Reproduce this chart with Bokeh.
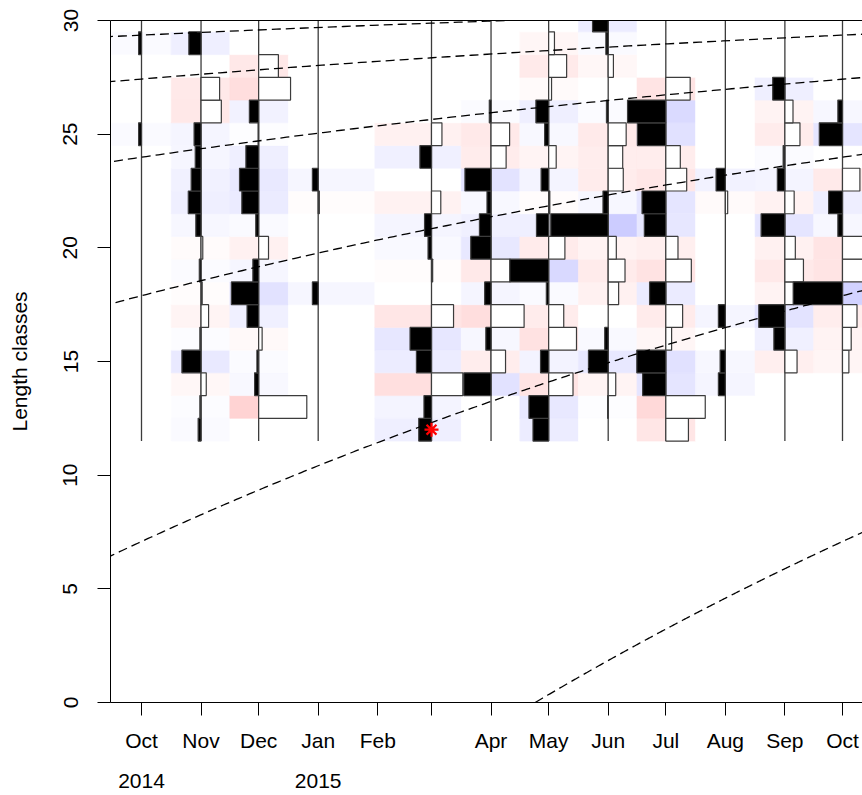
import math
import datetime as dt
from bokeh.plotting import figure
from bokeh.models import ColumnDataSource, LinearAxis, FixedTicker, Range1d
from bokeh.transform import linear_cmap
from bokeh.embed import file_html
from bokeh.resources import INLINE

# ---------------- data ----------------
sample_dates = ["2014-10-01", "2014-11-01", "2014-12-01", "2015-01-01", "2015-03-01",
                "2015-04-01", "2015-05-01", "2015-06-01", "2015-07-01", "2015-08-01",
                "2015-09-01", "2015-10-01"]
length_mids = list(range(12, 31))  # length class mid points (bin width 1)

# restructured scores per sample, rows = length classes 12..30
oct14 = [0, 0, 0, 0, 0, 0, 0, 0, 0, 0, 0, 0, 0, 0.05, 0, 0, 0, 0.05, 0]
nov14 = [0.05, 0.02, -0.09, 0.33, 0.02, -0.13, -0.02, 0.03, -0.03, 0.09, 0.22, 0.17, 0.10, 0.12, -0.35, -0.32, 0, 0.21, 0]
dec14 = [0, -0.83, 0.07, 0.03, -0.06, 0.20, 0.47, 0.10, -0.17, 0.05, 0.29, 0.33, 0.22, 0.01, 0.16, -0.55, -0.34, 0, 0]
jan15 = [0, 0, 0, 0, 0, 0, 0.10, 0, 0, 0, -0.02, 0.10, 0, 0, 0, 0, 0, 0, 0]
mar15 = [0.22, 0.13, -0.54, 0.26, 0.37, -0.38, 0, -0.02, 0.06, 0.12, -0.16, 0, 0.20, -0.18, 0, 0, 0, 0, 0]
apr15 = [0, 0, 0.47, -0.25, 0.09, -0.57, 0.11, -0.33, 0.35, 0.20, 0.07, 0.45, -0.26, -0.32, 0.03, 0, 0, 0, 0]
may15 = [0.27, 0.34, -0.42, 0.14, -0.48, -0.26, 0.04, 0.67, -0.28, 0.21, -0.02, 0.13, -0.13, 0.07, 0.22, -0.05, -0.31, -0.10, 0]
jun15 = [0, 0.01, -0.13, 0.34, 0.06, 0, -0.18, -0.29, -0.14, 0.99, 0.09, -0.26, -0.25, -0.31, 0.03, 0, -0.09, 0.04, 0.27]
jul15 = [-0.39, -0.68, 0.40, 0.50, -0.10, -0.29, 0.28, -0.44, -0.21, 0.37, 0.41, -0.36, -0.25, 0.49, 0.66, -0.42, 0, 0, 0]
aug15 = [0, 0, 0.12, 0.09, 0, 0.12, 0, 0, 0, 0, -0.04, 0.16, 0, 0, 0, 0, 0, 0, 0]
sep15 = [0, 0, 0, -0.21, 0.19, 0.45, -0.15, -0.32, -0.18, 0.41, -0.16, 0.13, 0.03, -0.26, -0.14, 0.21, 0, 0, 0]
oct15 = [0, 0, 0, -0.11, -0.15, -0.25, 0.85, -0.42, -0.42, 0.08, 0.24, -0.30, 0, 0.40, 0.08, 0, 0, 0, 0]
scores = [oct14, nov14, dec14, jan15, mar15, apr15, may15, jun15, jul15, aug15, sep15, oct15]

# x axis ticks (month starts) and labels
month_ticks = ["2014-10-01", "2014-11-01", "2014-12-01", "2015-01-01", "2015-02-01", "2015-03-01",
               "2015-04-01", "2015-05-01", "2015-06-01", "2015-07-01", "2015-08-01", "2015-09-01",
               "2015-10-01"]
month_labels = ["Oct", "Nov", "Dec", "Jan", "Feb", "", "Apr", "May", "Jun", "Jul", "Aug", "Sep", "Oct"]
year_ticks = ["2014-10-01", "2015-01-01"]
year_labels = ["2014", "2015"]
y_ticks = [0, 5, 10, 15, 20, 25, 30]

# growth curve parameters (VBGF) and anchor
Linf = 31.85
K = 0.574
cohort_births = ["2009-04-24", "2010-04-24", "2011-04-24", "2012-04-24", "2013-04-24",
                 "2014-04-24", "2015-04-24"]
star_date = "2015-03-01"
star_length = 12

# ---------------- helpers ----------------
EPOCH = dt.date(2014, 1, 1)


def day(s):
    return (dt.date.fromisoformat(s) - EPOCH).days


FONT = "Liberation Sans"
FS = "21px"
bar_scale_days = 30.2
bin_w = 1.0

d = [day(s) for s in sample_dates]
edges = [d[0] - (d[1] - d[0]) / 2]
for i in range(len(d) - 1):
    edges.append((d[i] + d[i + 1]) / 2)
edges.append(d[-1] + (d[-1] - d[-2]) / 2)

x_left = day("2014-10-01") - 31 / (701 / 365)
x_right = day("2015-10-01") + 20 / (701 / 365)

p = figure(width=862, height=795, x_range=Range1d(x_left, x_right), y_range=Range1d(0, 30),
           output_backend="svg", toolbar_location=None,
           min_border_left=110, min_border_right=0, min_border_top=20, min_border_bottom=93)
p.outline_line_color = None
p.grid.visible = False
p.background_fill_color = "white"
p.border_fill_color = "white"

# palette: red (negative) - white - blue (positive)
palette = []
N = 201
for k in range(N):
    v = -1 + 2 * k / (N - 1)
    t = abs(v) ** 0.75
    c = int(round(255 - 51 * t))
    if v < 0:
        palette.append("#%02x%02x%02x" % (255, c, c))
    else:
        palette.append("#%02x%02x%02x" % (c, c, 255))

cl, cr, cb, ct, cs = [], [], [], [], []
for i, col in enumerate(scores):
    for j, s in enumerate(col):
        cl.append(edges[i]); cr.append(edges[i + 1])
        cb.append(length_mids[j] - bin_w / 2); ct.append(length_mids[j] + bin_w / 2)
        cs.append(s)
cells = ColumnDataSource(dict(left=cl, right=cr, bottom=cb, top=ct, score=cs))
cmap = linear_cmap("score", palette, -1, 1)
p.quad(left="left", right="right", bottom="bottom", top="top", source=cells,
       fill_color=cmap, line_color=cmap, line_width=0.6)

# sample lines
p.segment(x0=d, y0=[length_mids[0] - bin_w / 2] * len(d), x1=d,
          y1=[length_mids[-1] + bin_w / 2] * len(d), line_color="#3c3c3c", line_width=1.3)

# histogram bars
bl, br, bb, bt, bc = [], [], [], [], []
for i, col in enumerate(scores):
    for j, s in enumerate(col):
        if s == 0:
            continue
        x2 = d[i] - s * bar_scale_days
        bl.append(min(d[i], x2)); br.append(max(d[i], x2))
        bb.append(length_mids[j] - bin_w / 2); bt.append(length_mids[j] + bin_w / 2)
        bc.append("black" if s > 0 else "white")
p.quad(left=bl, right=br, bottom=bb, top=bt, fill_color=bc, line_color="#3c3c3c", line_width=1.2)

# growth curves
for b in cohort_births:
    t0 = day(b)
    xs, ys = [], []
    n = 400
    for k in range(n + 1):
        x = t0 + (x_right + 5 - t0) * k / n
        xs.append(x)
        ys.append(Linf * (1 - math.exp(-K * (x - t0) / 365.25)))
    p.line(xs, ys, line_color="black", line_width=1.3, line_dash="9 5")

p.scatter(x=[day(star_date)], y=[star_length], marker="asterisk", size=14,
          line_color="red", line_width=2.2)

# axes
xa = p.xaxis[0]
xa.ticker = FixedTicker(ticks=[day(s) for s in month_ticks], minor_ticks=[])
xa.major_label_overrides = {day(s): lab for s, lab in zip(month_ticks, month_labels)}
xa.major_tick_in = 0
xa.major_tick_out = 13
xa.major_label_standoff = 13
xa.axis_line_color = "black"
xa.major_tick_line_color = "black"
xa.minor_tick_line_color = None
xa.major_label_text_font = FONT
xa.major_label_text_font_size = FS
xa.major_label_text_color = "black"

ya = p.yaxis[0]
ya.ticker = FixedTicker(ticks=y_ticks, minor_ticks=[])
ya.major_label_orientation = "vertical"
ya.major_tick_in = 0
ya.major_tick_out = 13
ya.major_label_standoff = 20
ya.axis_line_color = "black"
ya.major_tick_line_color = "black"
ya.minor_tick_line_color = None
ya.major_label_text_font = FONT
ya.major_label_text_font_size = FS
ya.major_label_text_color = "black"
ya.axis_label = "Length classes"
ya.axis_label_text_font = FONT
ya.axis_label_text_font_size = FS
ya.axis_label_text_font_style = "normal"
ya.axis_label_text_color = "black"
ya.axis_label_standoff = 30

year_axis = LinearAxis(ticker=FixedTicker(ticks=[day(s) for s in year_ticks], minor_ticks=[]),
                       major_label_overrides={day(s): lab for s, lab in zip(year_ticks, year_labels)},
                       axis_line_color=None, major_tick_line_color=None, minor_tick_line_color=None,
                       major_tick_in=0, major_tick_out=0, major_label_standoff=19,
                       major_label_text_font=FONT, major_label_text_font_size=FS,
                       major_label_text_color="black")
p.add_layout(year_axis, "below")

top_axis = LinearAxis(ticker=FixedTicker(ticks=[], minor_ticks=[]), axis_line_color="black",
                      major_tick_line_color=None, minor_tick_line_color=None,
                      major_label_text_font_size="0px", major_tick_in=0, major_tick_out=0)
p.add_layout(top_axis, "above")

open("out.html", "w").write(file_html(p, INLINE))
